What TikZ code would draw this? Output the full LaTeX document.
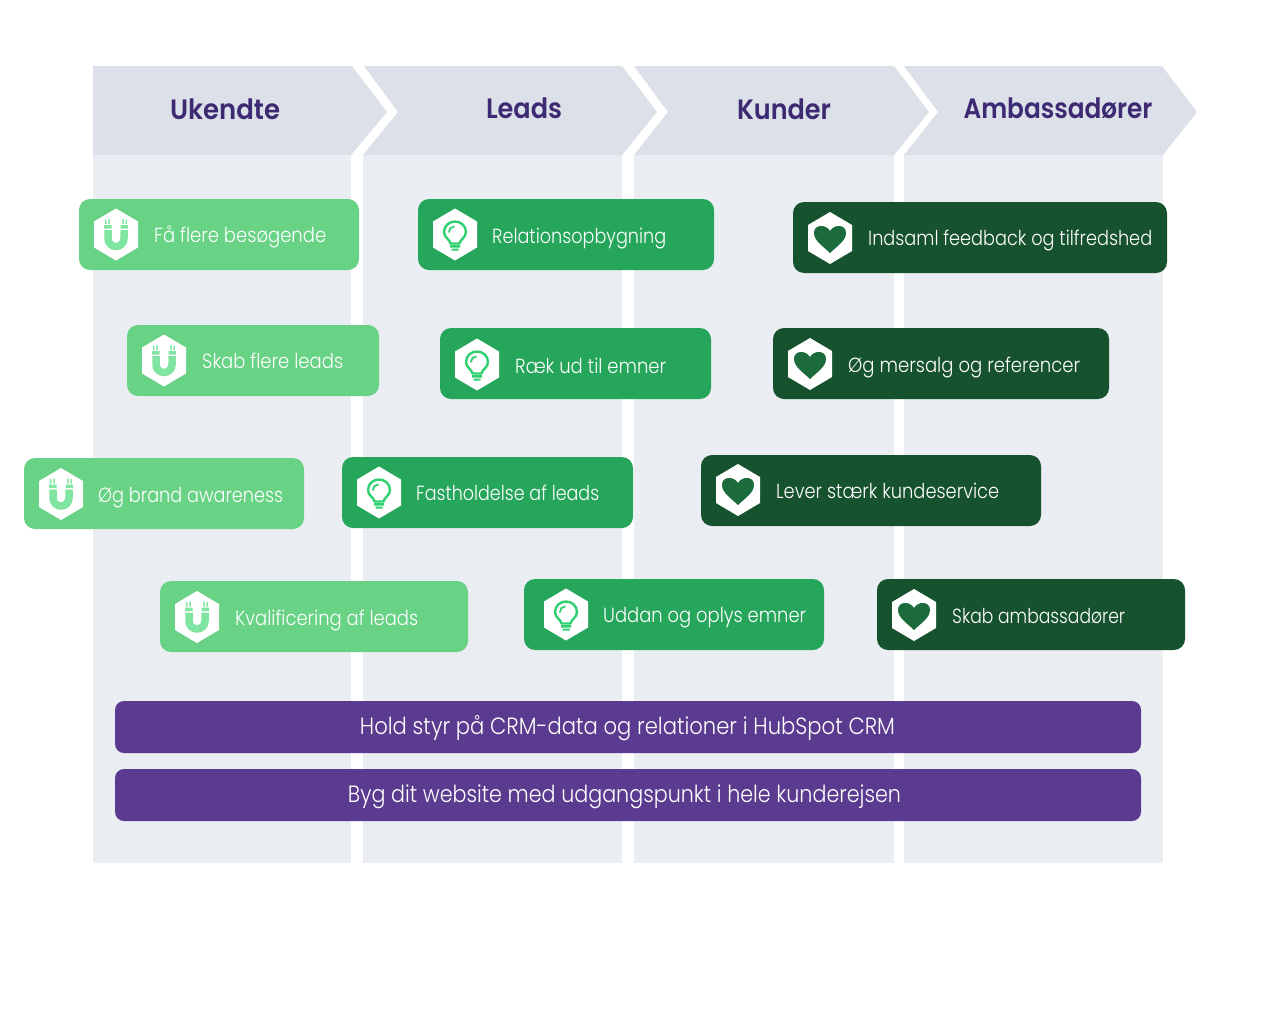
\documentclass[tikz,border=0pt]{standalone}
\usepackage{fontspec}
\setmainfont{Poppins}[UprightFont=* Light,BoldFont=* SemiBold]
\definecolor{hdr}{HTML}{DCE0E9}
\definecolor{col}{HTML}{EAEDF2}
\definecolor{lgreen}{HTML}{68D285}
\definecolor{mgreen}{HTML}{26A65B}
\definecolor{dgreen}{HTML}{17522E}
\definecolor{purp}{HTML}{5A3B8F}
\definecolor{title}{HTML}{3D2A73}
\definecolor{magnet}{HTML}{7FE5A0}
\definecolor{bulb}{HTML}{2FD06F}
\definecolor{heartc}{HTML}{1B6B3C}
\newcommand{\fw}[2]{\resizebox{#1pt}{\height}{#2}}
\tikzset{
  x=1pt,y=-1pt,
  pillbox/.style={rounded corners=11pt,draw=none,inner sep=0pt},
  pilltext/.style={anchor=base west,text=white,font=\fontsize{20.5}{25}\selectfont,inner sep=0pt},
  headtext/.style={anchor=base,text=title,font=\fontsize{28}{32}\selectfont\bfseries,inner sep=0pt},
  barbox/.style={fill=purp,rounded corners=9pt,draw=none,minimum width=1026pt,minimum height=52pt,inner sep=0pt},
  bartext/.style={anchor=base,text=white,font=\fontsize{23.5}{27}\selectfont,inner sep=0pt},
  pics/hexmagnet/.style={code={
    \fill[white] (0,-26)--(22,-13)--(22,13)--(0,26)--(-22,13)--(-22,-13)--cycle;
    \draw[magnet,line width=7.5pt] (-8,-4.5) -- (-8,4) .. controls (-8,8.4) and (-4.4,12) .. (0,12) .. controls (4.4,12) and (8,8.4) .. (8,4) -- (8,-4.5);
    \fill[magnet] (-12,-9.5) rectangle (-4.5,-6) (4.5,-9.5) rectangle (12,-6);
    \draw[magnet,line width=1.5pt] (-10.5,-15)--(-10,-10.5) (-7,-15.5)--(-7,-10.5)
       (7,-15.5)--(7,-10.5) (10.5,-15)--(10,-10.5);
  }},
  pics/hexbulb/.style={code={
    \fill[white] (0,-26)--(22,-13)--(22,13)--(0,26)--(-22,13)--(-22,-13)--cycle;
    \draw[bulb,line width=2.4pt,line join=round] (-4.5,9) .. controls (-5,5) and (-11,3) .. (-11,-2.5)
       .. controls (-11,-8.5) and (-6,-13) .. (0,-13) .. controls (6,-13) and (11,-8.5) .. (11,-2.5)
       .. controls (11,3) and (5,5) .. (4.5,9) -- cycle;
    \draw[bulb,line width=1.8pt,line cap=round] (-6,-2.5) .. controls (-6,-5.5) and (-4,-8) .. (-1,-8);
    \fill[bulb] (-5,10.5) rectangle (5,13) (-3.5,14) rectangle (3.5,16);
  }},
  pics/hexheart/.style={code={
    \fill[white] (0,-26)--(22,-13)--(22,13)--(0,26)--(-22,13)--(-22,-13)--cycle;
    \fill[heartc] (0,15) .. controls (-6,9) and (-16,3) .. (-16,-5)
       .. controls (-16,-14) and (-4,-14) .. (0,-7)
       .. controls (4,-14) and (16,-14) .. (16,-5)
       .. controls (16,3) and (6,9) .. (0,15) -- cycle;
  }},
}
\newcommand{\card}[9]{% name,x1,y1,x2,y2,colour,pic,hexx,hexy
  \node[pillbox,fill=#6,minimum width={#4pt-#2pt},minimum height={#5pt-#3pt}] (#1) at ({(#2+#4)/2},{(#3+#5)/2}) {};
  \pic at (#8,#9) {#7};
}
\begin{document}
\begin{tikzpicture}
\useasboundingbox (0,0) rectangle (1264,1012);
\fill[col] (93,155) rectangle (351,863);
\fill[col] (363,155) rectangle (622,863);
\fill[col] (634,155) rectangle (894,863);
\fill[col] (904,155) rectangle (1163,863);
\fill[hdr] (93,66)--(352,66)--(387,112)--(351,155)--(93,155)--cycle;
\fill[hdr] (364,66)--(622,66)--(657,112)--(622,155)--(363,155)--(398,112)--cycle;
\fill[hdr] (634,66)--(894,66)--(929,112)--(894,155)--(634,155)--(668,112)--cycle;
\fill[hdr] (904,66)--(1162,66)--(1197,112)--(1163,155)--(904,155)--(938,112)--cycle;
\node[headtext] (h1) at (225,119.5) {\fw{110}{Ukendte}};
\node[headtext] (h2) at (524,118.5) {\fw{76}{Leads}};
\node[headtext] (h3) at (784,119.5) {\fw{94}{Kunder}};
\node[headtext] (h4) at (1058,118.5) {\fw{189}{Ambassadører}};

\card{a1}{79}{199}{359}{270}{lgreen}{hexmagnet}{116}{234.5}
\node[pilltext] (ta1) at (154,242) {\fw{172}{Få flere besøgende}};
\card{a2}{127}{325}{379}{396}{lgreen}{hexmagnet}{164}{360.5}
\node[pilltext] (ta2) at (202,368) {\fw{141}{Skab flere leads}};
\card{a3}{24}{458}{304}{529}{lgreen}{hexmagnet}{61}{494}
\node[pilltext] (ta3) at (98,502) {\fw{185}{Øg brand awareness}};
\card{a4}{160}{581}{468}{652}{lgreen}{hexmagnet}{197}{617}
\node[pilltext] (ta4) at (235,625) {\fw{183}{Kvalificering af leads}};

\card{b1}{418}{199}{714}{270}{mgreen}{hexbulb}{455}{234.5}
\node[pilltext] (tb1) at (492,243) {\fw{174}{Relationsopbygning}};
\card{b2}{440}{328}{711}{399}{mgreen}{hexbulb}{477}{364.5}
\node[pilltext] (tb2) at (515,373) {\fw{151}{Ræk ud til emner}};
\card{b3}{342}{457}{633}{528}{mgreen}{hexbulb}{379}{492.5}
\node[pilltext] (tb3) at (416,500) {\fw{183}{Fastholdelse af leads}};
\card{b4}{524}{579}{824}{650}{mgreen}{hexbulb}{566}{614.5}
\node[pilltext] (tb4) at (603,622) {\fw{203}{Uddan og oplys emner}};

\card{c1}{793}{202}{1167}{273}{dgreen}{hexheart}{830}{238}
\node[pilltext] (tc1) at (868,245.5) {\fw{284}{Indsaml feedback og tilfredshed}};
\card{c2}{773}{328}{1109}{399}{dgreen}{hexheart}{810}{364}
\node[pilltext] (tc2) at (848,372) {\fw{232}{Øg mersalg og referencer}};
\card{c3}{701}{455}{1041}{526}{dgreen}{hexheart}{738}{490}
\node[pilltext] (tc3) at (776,498) {\fw{223}{Lever stærk kundeservice}};
\card{c4}{877}{579}{1185}{650}{dgreen}{hexheart}{914}{615}
\node[pilltext] (tc4) at (952,623) {\fw{173}{Skab ambassadører}};

\node[barbox] (bar1) at (628,727) {};
\node[bartext] (tbar1) at (627.5,734.5) {\fw{535}{Hold styr på CRM-data og relationer i HubSpot CRM}};
\node[barbox] (bar2) at (628,795) {};
\node[bartext] (tbar2) at (624.5,802.5) {\fw{553}{Byg dit website med udgangspunkt i hele kunderejsen}};
\end{tikzpicture}
\end{document}
